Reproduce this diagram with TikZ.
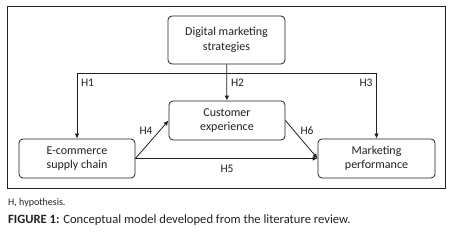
\documentclass[tikz,border=0pt]{standalone}
\usepackage{fontspec}
\setmainfont{Carlito}
\usetikzlibrary{arrows.meta}
\definecolor{ink}{HTML}{231F20}
\begin{document}
\begin{tikzpicture}[x=1pt,y=-1pt,
  box/.style={draw=ink,line width=0.8pt,rounded corners=4pt,align=center,text=ink,font=\fontsize{12}{14.5}\selectfont,inner sep=0pt},
  lab/.style={text=ink,font=\fontsize{11.5}{13}\selectfont,inner sep=0pt},
  conn/.style={draw=ink,line width=0.8pt},
  arr/.style={conn,-{Latex[length=5pt,width=4.5pt]}}]
\useasboundingbox (0,0) rectangle (456,240);
\draw[ink,line width=0.9pt] (7.5,6) rectangle (445,188);
\node[box,minimum width=117pt,minimum height=48pt] (dms) at (226.5,40) {Digital marketing\\strategies};
\node[box,minimum width=116pt,minimum height=39pt] (ce) at (227,120.5) {Customer\\experience};
\node[box,minimum width=116pt,minimum height=39pt] (ec) at (77,158.5) {E-commerce\\supply chain};
\node[box,minimum width=117pt,minimum height=39pt] (mp) at (376.5,158.5) {Marketing\\performance};
\coordinate (hl) at (77,73);
\coordinate (hr) at (376.5,73);
\draw[arr] (dms) -- (ce);
\draw[conn] (hl) -- (hr);
\draw[arr] (hl) -- (ec.north);
\draw[arr] (hr) -- (mp.north);
\draw[arr] (ec.east) -- (ce.west);
\draw[arr] (ec.east) -- (mp.west);
\draw[arr] (ce.east) -- (mp.west);
\node[lab] (h1) at (87.5,83) {H1};
\node[lab] (h2) at (237.5,83) {H2};
\node[lab] (h3) at (366,83) {H3};
\node[lab] (h4) at (146,131) {H4};
\node[lab] (h6) at (307,131) {H6};
\node[lab] (h5) at (227,169) {H5};
\node[anchor=west,inner sep=0pt,text=ink,font=\fontsize{10}{12}\selectfont] (note) at (8,203) {H, hypothesis.};
\node[anchor=west,inner sep=0pt,text=ink,font=\fontsize{12.6}{14}\selectfont] (cap) at (8,220.5) {\textbf{FIGURE 1:} Conceptual model developed from the literature review.};
\end{tikzpicture}
\end{document}
